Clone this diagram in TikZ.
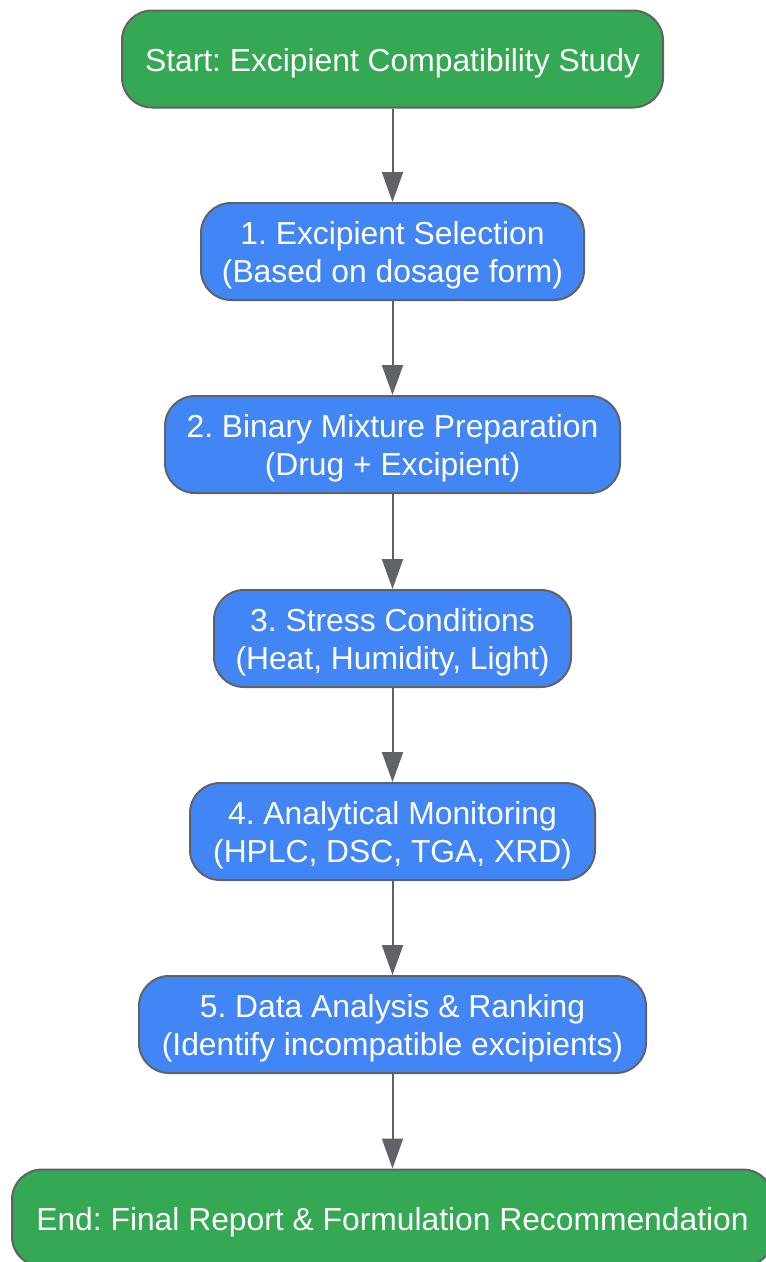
\documentclass[tikz,border=0pt]{standalone}
\usepackage{fontspec}
\setmainfont{Liberation Sans}
\usetikzlibrary{arrows.meta}
\definecolor{gfill}{HTML}{34A853}
\definecolor{bfill}{HTML}{4285F4}
\definecolor{edge}{HTML}{5F6368}
\newcommand{\mytopstrut}{\rule{0pt}{31pt}}
\begin{document}
\frenchspacing
\begin{tikzpicture}[x=1pt,y=-1pt,
  box/.style={draw=edge, line width=2pt, rounded corners=30pt, text=white,
    inner sep=0pt, align=center, font=\fontsize{31.8}{38.5}\selectfont\frenchspacing,
    minimum height=97pt},
  gbox/.style={box, fill=gfill},
  bbox/.style={box, fill=bfill},
  conn/.style={draw=edge, line width=2pt, -{Triangle[width=21pt,length=30pt]}}]
\useasboundingbox (0,0) rectangle (766,1262);
\node[gbox, minimum width=541pt] (s) at (392.5,59) {\mytopstrut Start: Excipient Compatibility Study};
\node[bbox, minimum width=383pt] (n1) at (392.5,251.5) {\mytopstrut 1. Excipient Selection\\(Based on dosage form)};
\node[bbox, minimum width=455pt] (n2) at (392.5,444.5) {\mytopstrut 2. Binary Mixture Preparation\\(Drug + Excipient)};
\node[bbox, minimum width=357pt] (n3) at (392.5,638.5) {\mytopstrut 3. Stress Conditions\\(Heat, Humidity, Light)};
\node[bbox, minimum width=405pt] (n4) at (392.5,831.5) {\mytopstrut 4. Analytical Monitoring\\(HPLC, DSC, TGA, XRD)};
\node[bbox, minimum width=507pt] (n5) at (392.5,1024.5) {\mytopstrut 5. Data Analysis \& Ranking\\(Identify incompatible excipients)};
\node[gbox, minimum width=761pt] (e) at (392.5,1218) {\mytopstrut End: Final Report \& Formulation Recommendation};
\draw[conn] (s) -- (n1);
\draw[conn] (n1) -- (n2);
\draw[conn] (n2) -- (n3);
\draw[conn] (n3) -- (n4);
\draw[conn] (n4) -- (n5);
\draw[conn] (n5) -- (e);
\end{tikzpicture}
\end{document}
